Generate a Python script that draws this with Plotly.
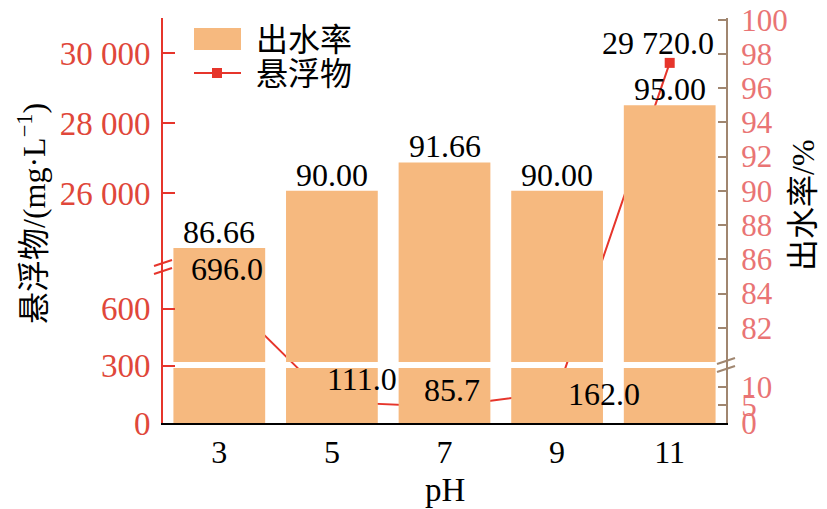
import plotly.graph_objects as go

# data
ph = ["3", "5", "7", "9", "11"]
yield_pct = [86.66, 90.00, 91.66, 90.00, 95.00]          # 出水率 (%)
suspended = [696.0, 111.0, 85.7, 162.0, 29720.0]         # 悬浮物 (mg/L)
yield_labels = ["86.66", "90.00", "91.66", "90.00", "95.00"]
suspended_labels = ["696.0", "111.0", "85.7", "162.0", "29 720.0"]

left_ticks = [0, 300, 600, 26000, 28000, 30000]
left_ticktext = ["0", "300", "600", "26 000", "28 000", "30 000"]
right_ticks = [0, 5, 10, 82, 84, 86, 88, 90, 92, 94, 96, 98, 100]
right_ticktext = [str(t) for t in right_ticks]

# broken axes: (value_lo, value_hi, u_lo, u_hi), u = pixel height in plot area
PLOT_H = 405
LEFT_SEGS = [(0, 820, 0, 156), (23900, 31000, 156, 405)]
RIGHT_SEGS = [(0, 15.3, 0, 55), (80, 100.1, 61, 405)]

FONT = "Liberation Serif, Noto Sans CJK SC, serif"
BAR_COLOR = "#F6B97F"
RED = "#E6352B"
LEFT_TICK_COLOR = "#E0473A"
RIGHT_AXIS_COLOR = "#A08670"
RIGHT_TICK_COLOR = "#E97474"

# plot area in pixels
X0, X1, Y0, Y1 = 163, 726, 18, 423


def to_u(v, segs):
    for vlo, vhi, ulo, uhi in segs:
        if v <= vhi:
            return ulo + (max(v, vlo) - vlo) * (uhi - ulo) / (vhi - vlo)
    vlo, vhi, ulo, uhi = segs[-1]
    return ulo + (v - vlo) * (uhi - ulo) / (vhi - vlo)


def px(x):
    return (x - X0) / (X1 - X0)


def py(y):
    return (Y1 - y) / (Y1 - Y0)


fig = go.Figure()

# bars split across the right-axis break
low_top = RIGHT_SEGS[0][3]
high_base = RIGHT_SEGS[1][2]
fig.add_trace(go.Bar(
    x=ph, y=[low_top] * len(ph), base=0, width=0.815,
    marker=dict(color=BAR_COLOR, line=dict(width=0)),
    yaxis="y2", showlegend=False, hoverinfo="skip",
))
fig.add_trace(go.Bar(
    x=ph, y=[to_u(v, RIGHT_SEGS) - high_base for v in yield_pct], base=high_base,
    width=0.815, marker=dict(color=BAR_COLOR, line=dict(width=0)),
    yaxis="y2", name="出水率", showlegend=False,
    customdata=yield_pct, hovertemplate="pH %{x}<br>%{customdata:.2f}%<extra></extra>",
))

ss_u = [to_u(v, LEFT_SEGS) for v in suspended]
fig.add_trace(go.Scatter(
    x=ph, y=ss_u, mode="lines+markers", name="悬浮物", showlegend=False,
    line=dict(color=RED, width=2),
    marker=dict(symbol="square", size=10, color=RED),
    customdata=suspended, hovertemplate="pH %{x}<br>%{customdata}<extra></extra>",
))

annotations = []
# bar value labels (category axis: position by index)
for i, (v, t) in enumerate(zip(yield_pct, yield_labels)):
    annotations.append(dict(
        x=i, y=to_u(v, RIGHT_SEGS), xref="x", yref="y2", text=t, showarrow=False,
        xanchor="center", yanchor="middle", yshift=16,
        font=dict(family=FONT, size=32, color="black"),
    ))
# line value labels
offsets = [(8, 22), (30, 23), (7, 17), (47, -2), (-12, 20)]
for i, (u, t, (dx, dy)) in enumerate(zip(ss_u, suspended_labels, offsets)):
    annotations.append(dict(
        x=i, y=u, xref="x", yref="y", text=t, showarrow=False,
        xanchor="center", yanchor="middle", xshift=dx, yshift=dy,
        font=dict(family=FONT, size=32, color="black"),
    ))

# axis titles
annotations += [
    dict(x=px(32), y=py(214), xref="paper", yref="paper", text="悬浮物/(mg·L<sup>−1</sup>)",
         textangle=-90, showarrow=False, xanchor="center", yanchor="middle",
         font=dict(family=FONT, size=32, color="black")),
    dict(x=px(803), y=py(205), xref="paper", yref="paper", text="出水率/%",
         textangle=-90, showarrow=False, xanchor="center", yanchor="middle",
         font=dict(family=FONT, size=32, color="black")),
    dict(x=px(445), y=py(490), xref="paper", yref="paper", text="pH",
         showarrow=False, xanchor="center", yanchor="middle",
         font=dict(family=FONT, size=33, color="black")),
    # legend texts
    dict(x=px(254), y=py(40), xref="paper", yref="paper", text="出水率",
         showarrow=False, xanchor="left", yanchor="middle",
         font=dict(family=FONT, size=32, color="black")),
    dict(x=px(254), y=py(74), xref="paper", yref="paper", text="悬浮物",
         showarrow=False, xanchor="left", yanchor="middle",
         font=dict(family=FONT, size=32, color="black")),
]

shapes = [
    # legend symbols
    dict(type="rect", xref="paper", yref="paper", x0=px(194), x1=px(241), y0=py(50), y1=py(28),
         fillcolor=BAR_COLOR, line=dict(width=0)),
    dict(type="line", xref="paper", yref="paper", x0=px(194), x1=px(241), y0=py(73), y1=py(73),
         line=dict(color=RED, width=2)),
    dict(type="rect", xref="paper", yref="paper", x0=px(212), x1=px(222), y0=py(78), y1=py(68),
         fillcolor=RED, line=dict(width=0)),
]
# break marks
for cy in (263, 271):
    shapes.append(dict(type="line", xref="paper", yref="paper",
                       x0=px(X0 - 9), y0=py(cy + 3), x1=px(X0 + 9), y1=py(cy - 3),
                       line=dict(color=RED, width=2)))
for cy in (361, 369):
    shapes.append(dict(type="line", xref="paper", yref="paper",
                       x0=px(X1 - 9), y0=py(cy + 3), x1=px(X1 + 9), y1=py(cy - 3),
                       line=dict(color=RIGHT_AXIS_COLOR, width=2)))

fig.update_layout(
    width=827, height=509, autosize=False,
    margin=dict(l=X0, r=827 - X1, t=Y0, b=509 - Y1),
    paper_bgcolor="white", plot_bgcolor="white",
    barmode="overlay", showlegend=False,
    font=dict(family=FONT, size=31, color="black"),
    xaxis=dict(
        type="category", range=[-0.5, 4.5], showline=True, linecolor="black", linewidth=2,
        ticks="", showgrid=False, zeroline=False, automargin=False,
        tickfont=dict(family=FONT, size=32, color="black"),
    ),
    yaxis=dict(
        range=[0, PLOT_H], tickvals=[to_u(v, LEFT_SEGS) for v in left_ticks],
        ticktext=left_ticktext, showline=True, linecolor=RED, linewidth=2,
        ticks="inside", ticklen=12, tickwidth=2, tickcolor=RED,
        showgrid=False, zeroline=False, automargin=False, ticklabelstandoff=4,
        tickfont=dict(family=FONT, size=33, color=LEFT_TICK_COLOR),
    ),
    yaxis2=dict(
        range=[0, PLOT_H], overlaying="y", side="right",
        tickvals=[to_u(v, RIGHT_SEGS) for v in right_ticks],
        ticktext=right_ticktext, showline=True, linecolor=RIGHT_AXIS_COLOR, linewidth=2,
        ticks="inside", ticklen=8, tickwidth=1.5, tickcolor=RIGHT_AXIS_COLOR,
        showgrid=False, zeroline=False, automargin=False, ticklabelstandoff=7,
        tickfont=dict(family=FONT, size=31, color=RIGHT_TICK_COLOR),
    ),
    annotations=annotations,
    shapes=shapes,
)

# drop the default 8px body margin so the figure fills the window exactly
fig.write_html("out.html", config={"displayModeBar": False},
               post_script="document.body.style.margin='0';")
